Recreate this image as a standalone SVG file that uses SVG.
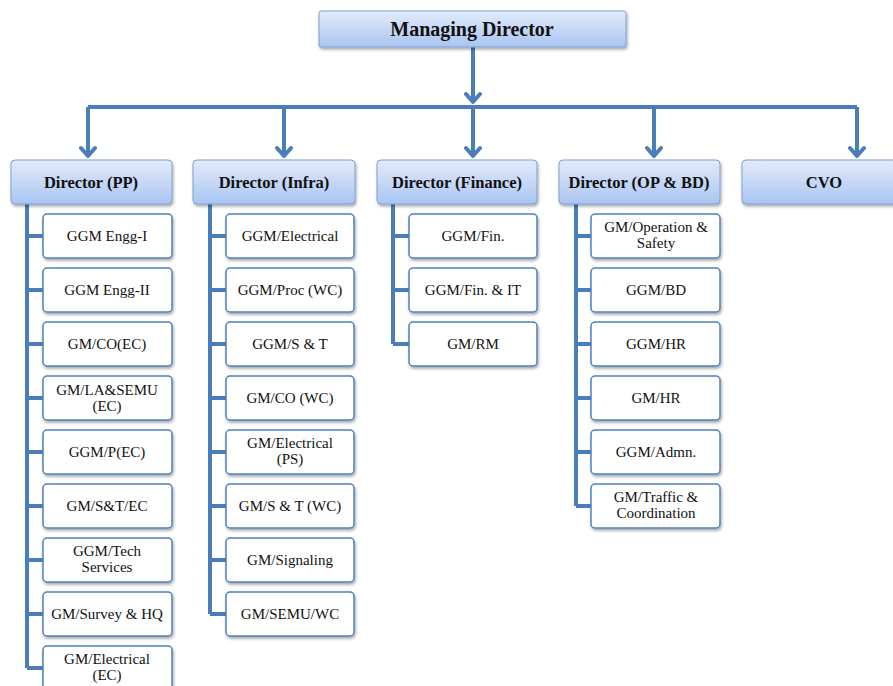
<svg xmlns="http://www.w3.org/2000/svg" width="893" height="686" viewBox="0 0 893 686">
<defs>
<linearGradient id="dg" x1="0" y1="0" x2="0" y2="1">
<stop offset="0" stop-color="#e3ebfa"/>
<stop offset="1" stop-color="#a9c5f2"/>
</linearGradient>
<filter id="sh" x="-10%" y="-20%" width="125%" height="150%">
<feDropShadow dx="1" dy="2" stdDeviation="1.5" flood-color="#000" flood-opacity="0.35"/>
</filter>
<marker id="ar" viewBox="0 0 14 18" refX="12" refY="9" markerWidth="14" markerHeight="18" markerUnits="userSpaceOnUse" orient="auto">
<path d="M3,2 L11,9 L3,16" fill="none" stroke="#4a7ebb" stroke-width="4" stroke-linecap="round" stroke-linejoin="round"/>
</marker>
</defs>
<style>
.dir rect{fill:url(#dg);stroke:#7f9fd0;stroke-width:1;filter:url(#sh)}
.dir text{font-family:"Liberation Serif","DejaVu Serif",serif;font-weight:bold;font-size:16.5px;fill:#111;text-anchor:middle}
.md text{font-size:20px}
.ch rect{fill:#fff;stroke:#4f81bd;stroke-width:1.5;filter:url(#sh)}
.ch text{font-family:"Liberation Serif","DejaVu Serif",serif;font-size:15px;fill:#111;text-anchor:middle}
.ln{fill:none;stroke:#4a7ebb;stroke-width:4}
.ar{fill:none;stroke:#4a7ebb;stroke-width:4}
</style>
<g id="connectors">
<path class="ar" d="M473,47 V103" marker-end="url(#ar)"/>
<path class="ln" d="M88,107 H857"/>
<path class="ar" d="M88,107 V157" marker-end="url(#ar)"/>
<path class="ar" d="M284,107 V157" marker-end="url(#ar)"/>
<path class="ar" d="M473,107 V157" marker-end="url(#ar)"/>
<path class="ar" d="M654,107 V157" marker-end="url(#ar)"/>
<path class="ar" d="M857,107 V157" marker-end="url(#ar)"/>
<path class="ln" d="M27,204 V668 M27,236 H43 M27,290 H43 M27,344 H43 M27,398 H43 M27,452 H43 M27,506 H43 M27,560 H43 M27,614 H43 M27,668 H43"/>
<path class="ln" d="M210,204 V614 M210,236 H226 M210,290 H226 M210,344 H226 M210,398 H226 M210,452 H226 M210,506 H226 M210,560 H226 M210,614 H226"/>
<path class="ln" d="M393,204 V344 M393,236 H409 M393,290 H409 M393,344 H409"/>
<path class="ln" d="M576,204 V506 M576,236 H591 M576,290 H591 M576,344 H591 M576,398 H591 M576,452 H591 M576,506 H591"/>
</g>
<g id="md" class="dir md"><rect x="319" y="11" width="307" height="36" rx="2"/><text x="472" y="36">Managing Director</text></g>
<g id="dir-pp" class="dir"><rect x="11" y="160" width="161" height="44" rx="4"/><text x="91" y="188">Director (PP)</text></g>
<g id="dir-infra" class="dir"><rect x="193" y="160" width="162" height="44" rx="4"/><text x="274" y="188">Director (Infra)</text></g>
<g id="dir-fin" class="dir"><rect x="377" y="160" width="160" height="44" rx="4"/><text x="457" y="188">Director (Finance)</text></g>
<g id="dir-op" class="dir"><rect x="559" y="160" width="161" height="44" rx="4"/><text x="639" y="188">Director (OP &amp; BD)</text></g>
<g id="cvo" class="dir"><rect x="742" y="160" width="160" height="44" rx="4"/><text x="824" y="188">CVO</text></g>

<g id="pp1" class="ch"><rect x="43" y="214" width="129" height="44" rx="4"/><text x="107" y="241">GGM Engg-I</text></g>
<g id="pp2" class="ch"><rect x="43" y="268" width="129" height="44" rx="4"/><text x="107" y="295">GGM Engg-II</text></g>
<g id="pp3" class="ch"><rect x="43" y="322" width="129" height="44" rx="4"/><text x="107" y="349">GM/CO(EC)</text></g>
<g id="pp4" class="ch"><rect x="43" y="376" width="129" height="44" rx="4"/><text x="107" y="395">GM/LA&amp;SEMU</text><text x="107" y="411">(EC)</text></g>
<g id="pp5" class="ch"><rect x="43" y="430" width="129" height="44" rx="4"/><text x="107" y="457">GGM/P(EC)</text></g>
<g id="pp6" class="ch"><rect x="43" y="484" width="129" height="44" rx="4"/><text x="107" y="511">GM/S&amp;T/EC</text></g>
<g id="pp7" class="ch"><rect x="43" y="538" width="129" height="44" rx="4"/><text x="107" y="556">GGM/Tech</text><text x="107" y="572">Services</text></g>
<g id="pp8" class="ch"><rect x="43" y="592" width="129" height="44" rx="4"/><text x="107" y="619">GM/Survey &amp; HQ</text></g>
<g id="pp9" class="ch"><rect x="43" y="646" width="129" height="44" rx="4"/><text x="107" y="664">GM/Electrical</text><text x="107" y="680">(EC)</text></g>

<g id="in1" class="ch"><rect x="226" y="214" width="128" height="44" rx="4"/><text x="290" y="241">GGM/Electrical</text></g>
<g id="in2" class="ch"><rect x="226" y="268" width="128" height="44" rx="4"/><text x="290" y="295">GGM/Proc (WC)</text></g>
<g id="in3" class="ch"><rect x="226" y="322" width="128" height="44" rx="4"/><text x="290" y="349">GGM/S &amp; T</text></g>
<g id="in4" class="ch"><rect x="226" y="376" width="128" height="44" rx="4"/><text x="290" y="403">GM/CO (WC)</text></g>
<g id="in5" class="ch"><rect x="226" y="430" width="128" height="44" rx="4"/><text x="290" y="448">GM/Electrical</text><text x="290" y="464">(PS)</text></g>
<g id="in6" class="ch"><rect x="226" y="484" width="128" height="44" rx="4"/><text x="290" y="511">GM/S &amp; T (WC)</text></g>
<g id="in7" class="ch"><rect x="226" y="538" width="128" height="44" rx="4"/><text x="290" y="565">GM/Signaling</text></g>
<g id="in8" class="ch"><rect x="226" y="592" width="128" height="44" rx="4"/><text x="290" y="619">GM/SEMU/WC</text></g>

<g id="fi1" class="ch"><rect x="409" y="214" width="128" height="44" rx="4"/><text x="473" y="241">GGM/Fin.</text></g>
<g id="fi2" class="ch"><rect x="409" y="268" width="128" height="44" rx="4"/><text x="473" y="295">GGM/Fin. &amp; IT</text></g>
<g id="fi3" class="ch"><rect x="409" y="322" width="128" height="44" rx="4"/><text x="473" y="349">GM/RM</text></g>

<g id="op1" class="ch"><rect x="591" y="214" width="129" height="44" rx="4"/><text x="656" y="232">GM/Operation &amp;</text><text x="656" y="248">Safety</text></g>
<g id="op2" class="ch"><rect x="591" y="268" width="129" height="44" rx="4"/><text x="656" y="295">GGM/BD</text></g>
<g id="op3" class="ch"><rect x="591" y="322" width="129" height="44" rx="4"/><text x="656" y="349">GGM/HR</text></g>
<g id="op4" class="ch"><rect x="591" y="376" width="129" height="44" rx="4"/><text x="656" y="403">GM/HR</text></g>
<g id="op5" class="ch"><rect x="591" y="430" width="129" height="44" rx="4"/><text x="656" y="457">GGM/Admn.</text></g>
<g id="op6" class="ch"><rect x="591" y="484" width="129" height="44" rx="4"/><text x="656" y="502">GM/Traffic &amp;</text><text x="656" y="518">Coordination</text></g>
</svg>
